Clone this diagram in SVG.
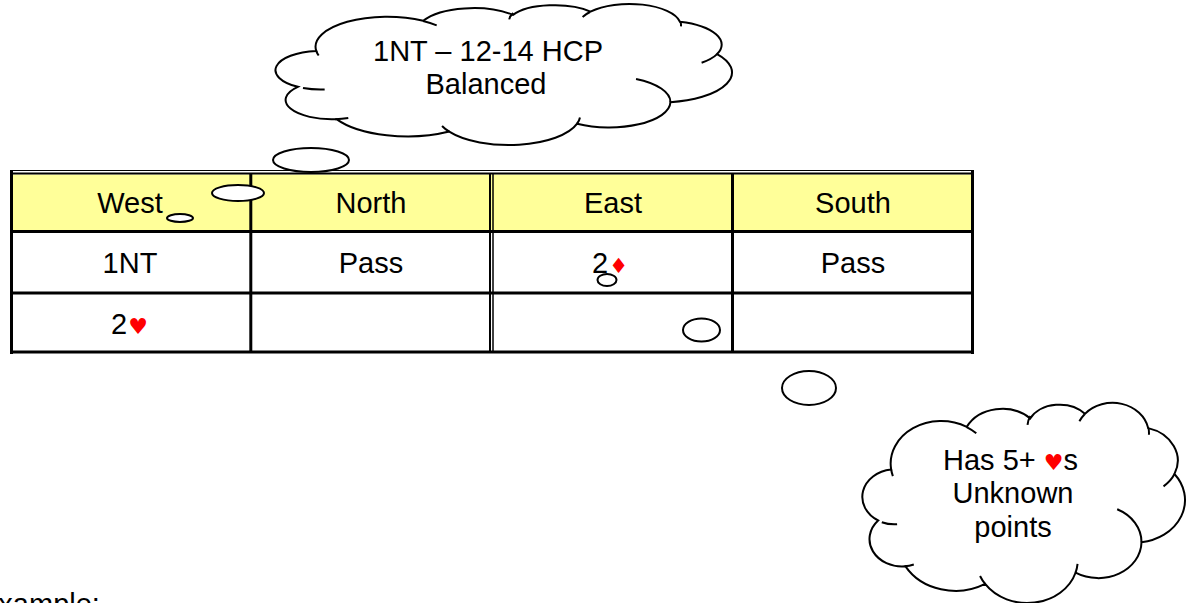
<svg xmlns="http://www.w3.org/2000/svg" width="1190" height="603" viewBox="0 0 1190 603">
<style>
  .t { font-family: "Liberation Sans", Arial, sans-serif; font-size: 29px; fill: #000; }
  .suit { font-family: "DejaVu Sans", sans-serif; fill: #FF0000; }
  .ln { stroke: #000; fill: none; }
  .bub { fill: #fff; stroke: #000; stroke-width: 2; }
  .cloud { fill: #fff; stroke: #000; stroke-width: 2; }
  .hint { fill: none; stroke: #000; stroke-width: 2; }
</style>

<g id="bidding-table">
  <rect x="13" y="174.5" width="958" height="56" fill="#FFFF99"/>
  <line class="ln" x1="10" y1="170.5" x2="974" y2="170.5" stroke-width="1.2"/>
  <line class="ln" x1="10" y1="173.5" x2="974" y2="173.5" stroke-width="2"/>
  <line class="ln" x1="11.5" y1="170" x2="11.5" y2="354" stroke-width="3"/>
  <line class="ln" x1="972.5" y1="170" x2="972.5" y2="354" stroke-width="3"/>
  <line class="ln" x1="10" y1="352" x2="974" y2="352" stroke-width="3"/>
  <line class="ln" x1="10" y1="231.5" x2="974" y2="231.5" stroke-width="3"/>
  <line class="ln" x1="10" y1="293" x2="974" y2="293" stroke-width="3"/>
  <line class="ln" x1="250.8" y1="173" x2="250.8" y2="353" stroke-width="3"/>
  <line class="ln" x1="490" y1="173" x2="490" y2="353" stroke-width="2"/>
  <line class="ln" x1="493" y1="173" x2="493" y2="353" stroke-width="1.5"/>
  <line class="ln" x1="732.5" y1="173" x2="732.5" y2="353" stroke-width="3"/>

  <text class="t" x="130" y="213" text-anchor="middle">West</text>
  <text class="t" x="371" y="213" text-anchor="middle">North</text>
  <text class="t" x="613" y="213" text-anchor="middle">East</text>
  <text class="t" x="853" y="213" text-anchor="middle">South</text>

  <text class="t" x="130" y="273" text-anchor="middle">1NT</text>
  <text class="t" x="371" y="273" text-anchor="middle">Pass</text>
  <text class="t" x="592" y="273">2<tspan class="suit" font-size="21" dx="1">♦</tspan></text>
  <text class="t" x="853" y="273" text-anchor="middle">Pass</text>

  <text class="t" x="111" y="334">2<tspan class="suit" font-size="22" dx="1">♥</tspan></text>
</g>

<g id="cloud-west">
  <g transform="translate(275,4) scale(0.021157,0.006528)">
    <path class="cloud" vector-effect="non-scaling-stroke" d="M1950,7185 A2172.5,2972.5 0 0 0 1080,12690 A2180,2959 0 0 0 2910,17640 A3860,5271.5 0 0 0 8235,19545 A3376,4607.5 0 0 0 14280,18330 A2892.5,3933.5 0 0 0 18690,15045 A3387.5,4610 0 0 0 20895,7665 A2666.5,3636.5 0 0 0 19140,2715 A2428.5,3378.5 0 0 0 14910,1170 A2182.5,2646 0 0 0 11250,1665 A2666.5,3583.5 0 0 0 7005,2580 A3376.5,4595 0 0 0 1950,7185 Z"/>
    <path class="hint" vector-effect="non-scaling-stroke" d="M2347,13089 A2172.5,2972.5 0 0 1 1323,12873 M3464,17450 A2180,2959 0 0 1 2845,17639 M8239,19545 A3376,4607.5 0 0 1 7895,18678 M14414,17376 A3376,4607.5 0 0 1 14280,18330 M17065,11477 A2892.5,3933.5 0 0 1 18690,15045 M20899,7677 A2666.5,3636.5 0 0 1 20164,9000 M19162,2713 A2428.5,3378.5 0 0 1 19187,3425 M14539,1976 A2428.5,3378.5 0 0 1 14888,1223 M11070,2360 A2182.5,2646 0 0 1 11265,1400 M7000,2596 A3376.5,4595 0 0 1 7642,3272 M2064,7895 A3376.5,4595 0 0 1 1950,7185"/>
  </g>
  <text class="t" x="488" y="61" text-anchor="middle">1NT – 12-14 HCP</text>
  <text class="t" x="486" y="94" text-anchor="middle">Balanced</text>
</g>

<g id="cloud-east">
  <g transform="translate(862,403) scale(0.014954,0.009259)">
    <path class="cloud" vector-effect="non-scaling-stroke" d="M1950,7185 A2172.5,2972.5 0 0 0 1080,12690 A2180,2959 0 0 0 2910,17640 A3860,5271.5 0 0 0 8235,19545 A3376,4607.5 0 0 0 14280,18330 A2892.5,3933.5 0 0 0 18690,15045 A3387.5,4610 0 0 0 20895,7665 A2666.5,3636.5 0 0 0 19140,2715 A2428.5,3378.5 0 0 0 14910,1170 A2182.5,2646 0 0 0 11250,1665 A2666.5,3583.5 0 0 0 7005,2580 A3376.5,4595 0 0 0 1950,7185 Z"/>
    <path class="hint" vector-effect="non-scaling-stroke" d="M2347,13089 A2172.5,2972.5 0 0 1 1323,12873 M3464,17450 A2180,2959 0 0 1 2845,17639 M8239,19545 A3376,4607.5 0 0 1 7895,18678 M14414,17376 A3376,4607.5 0 0 1 14280,18330 M17065,11477 A2892.5,3933.5 0 0 1 18690,15045 M20899,7677 A2666.5,3636.5 0 0 1 20164,9000 M19162,2713 A2428.5,3378.5 0 0 1 19187,3425 M14539,1976 A2428.5,3378.5 0 0 1 14888,1223 M11070,2360 A2182.5,2646 0 0 1 11265,1400 M7000,2596 A3376.5,4595 0 0 1 7642,3272 M2064,7895 A3376.5,4595 0 0 1 1950,7185"/>
  </g>
  <text class="t" x="943" y="470">Has 5+ <tspan class="suit" font-size="22">♥</tspan>s</text>
  <text class="t" x="1013" y="503" text-anchor="middle">Unknown</text>
  <text class="t" x="1013" y="537" text-anchor="middle">points</text>
</g>

<g id="connectors">
  <ellipse class="bub" cx="311" cy="160" rx="38" ry="12"/>
  <ellipse class="bub" cx="238" cy="193" rx="26" ry="8"/>
  <ellipse class="bub" cx="180" cy="218" rx="13" ry="4"/>
  <ellipse class="bub" cx="607" cy="280" rx="9.5" ry="6" style="fill:none"/>
  <ellipse class="bub" cx="701.5" cy="330" rx="18.5" ry="11.5"/>
  <ellipse class="bub" cx="809" cy="388" rx="27" ry="17"/>
</g>

<text class="t" x="-21" y="614">Example:</text>
</svg>
